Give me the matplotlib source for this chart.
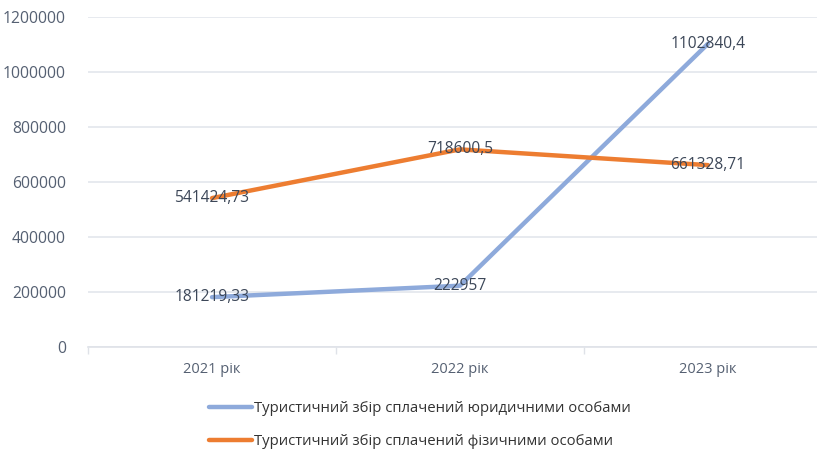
import matplotlib
matplotlib.use("Agg")
import matplotlib.pyplot as plt
from matplotlib.ticker import FixedLocator, FuncFormatter

plt.rcParams['font.family'] = ['Open Sans', 'DejaVu Sans']

years = ['2021 рік', '2022 рік', '2023 рік']
legal_vals = [181219.33, 222957, 1102840.4]
legal_labels = ['181219,33', '222957', '1102840,4']
phys_vals = [541424.73, 718600.5, 661328.71]
phys_labels = ['541424,73', '718600,5', '661328,71']
series_names = ['Туристичний збір сплачений юридичними особами',
                'Туристичний збір сплачений фізичними особами']
y_ticks = [0, 200000, 400000, 600000, 800000, 1000000, 1200000]

tick_col = '#556072'
lab_col = '#3c4758'
grid_col = '#e3e6ec'

fig = plt.figure(figsize=(8.17, 4.5), dpi=100)
ax = fig.add_axes([88 / 817, 1 - 347 / 450, 744 / 817, 330 / 450])

x = list(range(len(years)))
l1, = ax.plot(x, legal_vals, color='#8eaadb', lw=3.2, solid_capstyle='round', zorder=3)
l2, = ax.plot(x, phys_vals, color='#ed7d31', lw=3.2, solid_capstyle='round', zorder=3)

for xi, v, t in zip(x, legal_vals, legal_labels):
    ax.text(xi, v, t, ha='center', va='center', fontsize=11.2, color=lab_col, zorder=4)
for xi, v, t in zip(x, phys_vals, phys_labels):
    ax.text(xi, v, t, ha='center', va='center', fontsize=11.2, color=lab_col, zorder=4)

ax.set_xlim(-0.5, len(years) - 0.5)
ax.set_ylim(0, 1200000)
ax.set_yticks(y_ticks)
ax.yaxis.set_major_formatter(FuncFormatter(lambda v, p: f'{int(v)}'))
ax.grid(axis='y', color=grid_col, lw=1.2, zorder=0)

ax.set_xticks(x)
ax.set_xticklabels(years)
ax.xaxis.set_minor_locator(FixedLocator([i - 0.5 for i in range(len(years) + 1)]))
ax.tick_params(axis='x', which='major', length=0, pad=11, labelsize=10.5, labelcolor=tick_col)
ax.tick_params(axis='x', which='minor', length=5, color='#dfe2e8', width=1)
ax.tick_params(axis='y', length=0, pad=16, labelsize=11.3, labelcolor=tick_col)

for s in ['top', 'right', 'left']:
    ax.spines[s].set_visible(False)
ax.spines['bottom'].set_color('#dfe2e8')
ax.spines['bottom'].set_linewidth(1.2)

fig.legend([l1, l2], series_names, loc='upper left', bbox_to_anchor=(209 / 817, 1 - 401 / 450),
           frameon=False, fontsize=10.7, labelcolor='#333333', handlelength=2.9,
           handletextpad=0.15, labelspacing=1.2, borderaxespad=0, borderpad=0)

fig.savefig('out.png', dpi=100)
